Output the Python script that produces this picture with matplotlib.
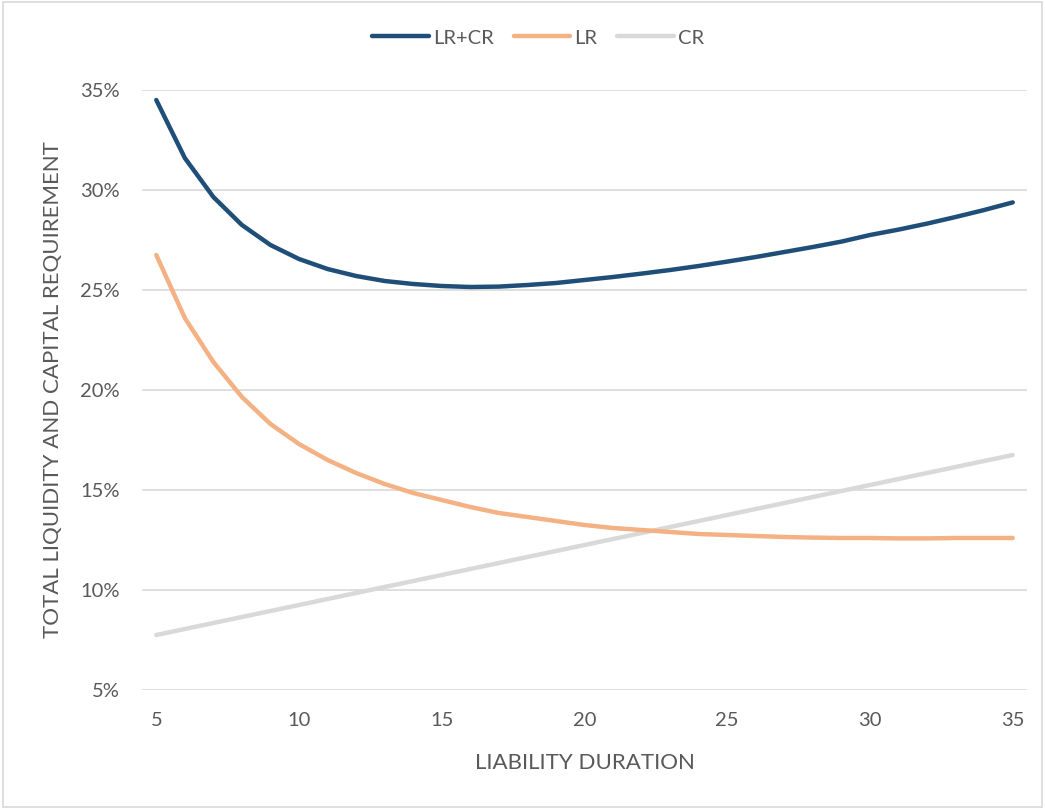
import numpy as np
import matplotlib.pyplot as plt
from matplotlib.patches import Rectangle
from matplotlib.ticker import FuncFormatter

plt.rcParams['font.family'] = ['Lato', 'DejaVu Sans']

# liability duration (years)
duration = list(range(5, 36))

# liquidity requirement, %
lr = [26.75, 23.6, 21.4, 19.65, 18.3, 17.3, 16.5, 15.85, 15.3, 14.85,
      14.5, 14.15, 13.85, 13.65, 13.45, 13.25, 13.1, 13.0, 12.9, 12.8,
      12.75, 12.7, 12.65, 12.62, 12.6, 12.6, 12.58, 12.58, 12.6, 12.6, 12.6]

# capital requirement, %
cr = [7.75, 8.05, 8.35, 8.65, 8.95, 9.25, 9.55, 9.85, 10.15, 10.45,
      10.75, 11.05, 11.35, 11.65, 11.95, 12.25, 12.55, 12.85, 13.15, 13.45,
      13.75, 14.05, 14.35, 14.65, 14.95, 15.25, 15.55, 15.85, 16.15, 16.45, 16.75]

# total requirement, %
total = [34.5, 31.6, 29.65, 28.25, 27.25, 26.55, 26.05, 25.7, 25.45, 25.3,
         25.2, 25.15, 25.17, 25.25, 25.35, 25.5, 25.65, 25.82, 26.0, 26.2,
         26.42, 26.65, 26.9, 27.15, 27.42, 27.75, 28.02, 28.32, 28.65, 29.0, 29.38]

x_ticks = [5, 10, 15, 20, 25, 30, 35]
y_ticks = [5, 10, 15, 20, 25, 30, 35]

text_color = '#595959'
grid_color = '#d9d9d9'

fig = plt.figure(figsize=(10.45, 8.09), dpi=100)
ax = fig.add_axes([142 / 1045, 119 / 809, 885 / 1045, 600 / 809])

ax.plot(duration, total, color='#1f4e79', lw=3.2, label='LR+CR',
        solid_capstyle='round', zorder=4)
ax.plot(duration, lr, color='#f4b183', lw=3.2, label='LR',
        solid_capstyle='round', zorder=3)
ax.plot(duration, cr, color='#d9d9d9', lw=3.2, label='CR',
        solid_capstyle='round', zorder=2)

ax.set_xlim(4.5, 35.5)
ax.set_ylim(5, 35)
ax.set_xticks(x_ticks)
ax.set_yticks(y_ticks)
ax.yaxis.set_major_formatter(FuncFormatter(lambda v, p: f'{v:.0f}%'))
ax.tick_params(length=0, labelsize=14.5, colors=text_color)
ax.tick_params(axis='x', pad=16)
ax.tick_params(axis='y', pad=16)

ax.grid(axis='y', color=grid_color, lw=1.2)
ax.set_axisbelow(True)
for s in ax.spines.values():
    s.set_visible(False)

ax.set_xlabel('LIABILITY DURATION', fontsize=16, color=text_color, labelpad=17)
ax.set_ylabel('TOTAL LIQUIDITY AND CAPITAL REQUIREMENT', fontsize=16,
              color=text_color, labelpad=12)

leg = fig.legend(loc='center', bbox_to_anchor=(0.515, 1 - 38 / 809), ncol=3,
                 frameon=False, fontsize=14.5, handlelength=2.8,
                 columnspacing=1.0, handletextpad=0.2)
for t in leg.get_texts():
    t.set_color(text_color)

# chart border
fig.patches.append(Rectangle((0.003, 0.003), 0.994, 0.994, transform=fig.transFigure,
                             fill=False, edgecolor=grid_color, lw=1.2))

fig.savefig('out.png', dpi=100)
